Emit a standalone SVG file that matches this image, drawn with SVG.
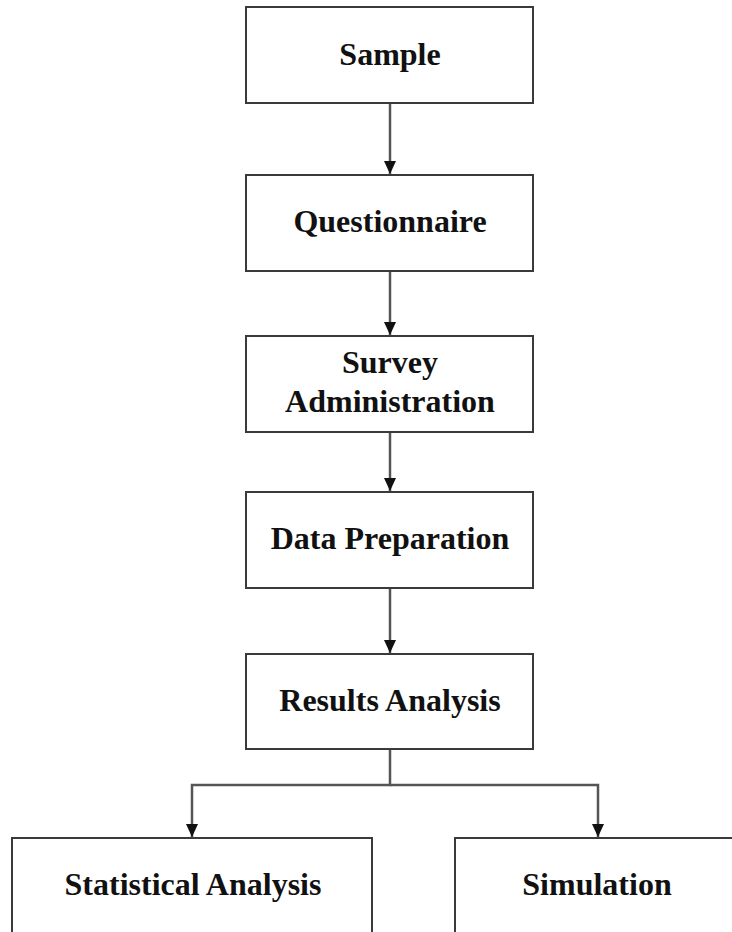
<svg xmlns="http://www.w3.org/2000/svg" width="732" height="932" viewBox="0 0 732 932">
<style>
.box{fill:#fff;stroke:#3a3a3a;stroke-width:2}
.lbl{font-family:"Liberation Serif","Times New Roman",serif;font-weight:bold;font-size:32px;fill:#111;text-anchor:middle}
.con{fill:none;stroke:#555;stroke-width:2.5}
</style>
<defs>
<marker id="ah" viewBox="0 0 13 12" refX="13" refY="6" markerWidth="13" markerHeight="12" markerUnits="userSpaceOnUse" orient="auto">
<path d="M0,0 L13,6 L0,12 Z" fill="#111"/>
</marker>
</defs>
<rect width="732" height="932" fill="#fff"/>
<g id="connectors">
<line class="con" x1="390" y1="103" x2="390" y2="174" marker-end="url(#ah)"/>
<line class="con" x1="390" y1="271" x2="390" y2="335" marker-end="url(#ah)"/>
<line class="con" x1="390" y1="432" x2="390" y2="491" marker-end="url(#ah)"/>
<line class="con" x1="390" y1="588" x2="390" y2="653" marker-end="url(#ah)"/>
<polyline class="con" points="390,749 390,785 192,785 192,837" marker-end="url(#ah)"/>
<polyline class="con" points="390,785 598,785 598,837" marker-end="url(#ah)"/>
</g>
<g id="sample"><rect class="box" x="246" y="7" width="287" height="96"/><text class="lbl" x="390" y="65">Sample</text></g>
<g id="questionnaire"><rect class="box" x="246" y="175" width="287" height="96"/><text class="lbl" x="390" y="232">Questionnaire</text></g>
<g id="survey"><rect class="box" x="246" y="336" width="287" height="96"/><text class="lbl" x="390" y="373">Survey</text><text class="lbl" x="390" y="412">Administration</text></g>
<g id="dataprep"><rect class="box" x="246" y="492" width="287" height="96"/><text class="lbl" x="390" y="549">Data Preparation</text></g>
<g id="results"><rect class="box" x="246" y="654" width="287" height="95"/><text class="lbl" x="390" y="711">Results Analysis</text></g>
<g id="statistical"><rect class="box" x="12" y="838" width="360" height="110"/><text class="lbl" x="193" y="895">Statistical Analysis</text></g>
<g id="simulation"><rect class="box" x="455" y="838" width="300" height="110"/><text class="lbl" x="597" y="895">Simulation</text></g>
</svg>
